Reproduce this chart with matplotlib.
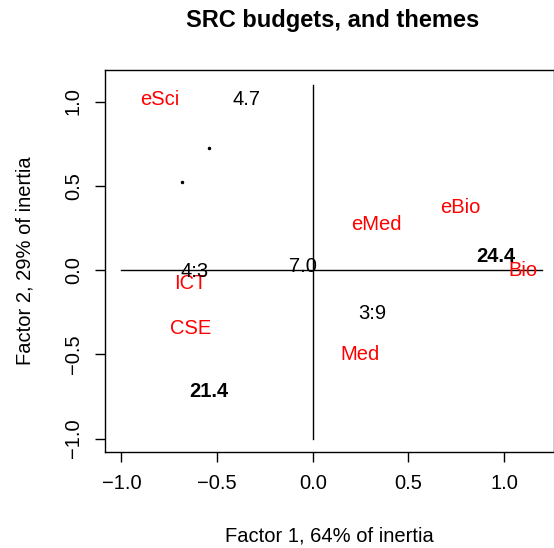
import matplotlib
matplotlib.use("Agg")
import matplotlib.pyplot as plt

plt.rcParams['font.family'] = ['Liberation Sans', 'DejaVu Sans']

# Red: themes (row points)
theme_labels = ["eSci", "eMed", "eBio", "Bio", "ICT", "CSE", "Med"]
theme_x = [-0.80, 0.33, 0.77, 1.10, -0.64, -0.64, 0.245]
theme_y = [1.01, 0.27, 0.37, -0.005, -0.08, -0.345, -0.50]

# Black: budgets (column points)
budget_labels = ["4.7", "24.4", "4:3", "7.0", "3:9", "21.4"]
budget_x = [-0.345, 0.955, -0.62, -0.05, 0.31, -0.545]
budget_y = [1.01, 0.08, -0.01, 0.02, -0.26, -0.72]
budget_bold = [False, True, False, False, False, True]

# Small dots
dot_x = [-0.54, -0.685]
dot_y = [0.725, 0.52]

ticks = [-1.0, -0.5, 0.0, 0.5, 1.0]
tick_labels = ["\u22121.0", "\u22120.5", "0.0", "0.5", "1.0"]

FS = 14.5

fig = plt.figure(figsize=(5.54, 5.48), dpi=100)
ax = fig.add_axes([105/554, 1-452/548, (553.5-105)/554, (452-70)/548])
ax.set_xlim(-1.086, 1.258)
ax.set_ylim(-1.080, 1.187)

ax.plot([-1.0, 1.2], [0, 0], color="black", lw=1)
ax.plot([0, 0], [-1.0, 1.1], color="black", lw=1)

for lab, x, y in zip(theme_labels, theme_x, theme_y):
    ax.text(x, y, lab, color="red", fontsize=FS, ha="center", va="center")
for lab, x, y, b in zip(budget_labels, budget_x, budget_y, budget_bold):
    ax.text(x, y, lab, color="black", fontsize=FS, ha="center", va="center",
            fontweight="bold" if b else "normal")
ax.plot(dot_x, dot_y, ls="none", marker="o", ms=1.5, color="black")

ax.set_xticks(ticks)
ax.set_xticklabels(tick_labels)
ax.set_yticks(ticks)
ax.set_yticklabels(tick_labels, rotation=90, va="center")
ax.tick_params(axis="both", labelsize=FS, length=7, width=1, pad=9)
for s in ax.spines.values():
    s.set_linewidth(1)

ax.set_xlabel("Factor 1, 64% of inertia", fontsize=FS, labelpad=24)
ax.set_ylabel("Factor 2, 29% of inertia", fontsize=FS, labelpad=21)
fig.text(333/554, 1-20/548, "SRC budgets, and themes", fontsize=17,
         fontweight="bold", ha="center", va="center")

fig.savefig("out.png", dpi=100)
